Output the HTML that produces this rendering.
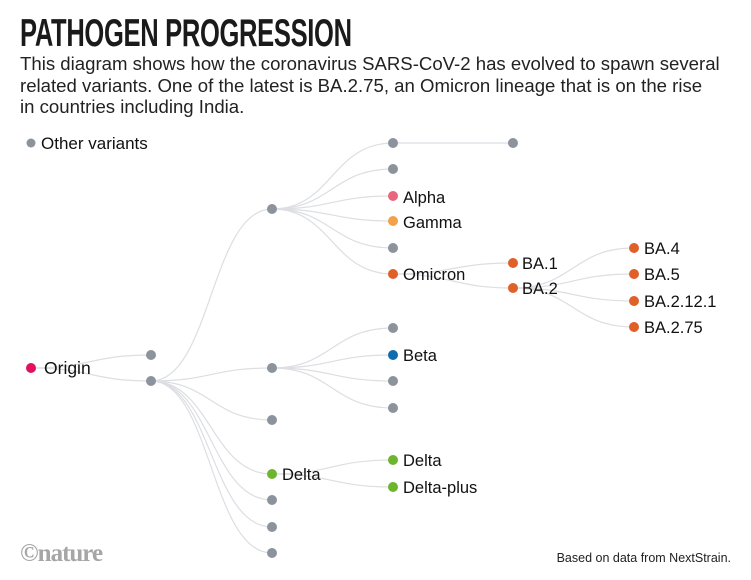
<!DOCTYPE html><html><head><style>
body{margin:0;background:#fff;width:751px;height:580px;overflow:hidden;position:relative;font-family:"Liberation Sans",sans-serif;color:#222}
h1{position:absolute;left:20px;top:12px;margin:0;font-family:"Liberation Sans Narrow","Liberation Sans",sans-serif;font-weight:bold;font-size:39px;letter-spacing:-0.5px;transform:scaleX(0.655);transform-origin:left;color:#1a1a1a;white-space:nowrap}
p{position:absolute;left:20px;top:53px;margin:0;font-size:18.6px;line-height:21.5px;width:760px;transform:scaleX(1.0);transform-origin:left;color:#222;white-space:nowrap}
</style></head><body>
<h1>PATHOGEN PROGRESSION</h1>
<p>This diagram shows how the coronavirus SARS-CoV-2 has evolved to spawn several<br>related variants. One of the latest is BA.2.75, an Omicron lineage that is on the rise<br>in countries including India.</p>
<svg width="751" height="580" style="position:absolute;left:0;top:0" font-family="Liberation Sans, sans-serif" font-size="16.5" fill="#111">
<g fill="none" stroke="#dcdee2" stroke-width="1.2">
<path d="M31,368 C91,368 91,355 151,355"/><path d="M31,368 C91,368 91,381 151,381"/>
<path d="M151,381 C211,381 211,209 272,209"/><path d="M151,381 C211,381 211,368 272,368"/><path d="M151,381 C211,381 211,420 272,420"/><path d="M151,381 C211,381 211,474 272,474"/><path d="M151,381 C211,381 211,500 272,500"/><path d="M151,381 C211,381 211,527 272,527"/><path d="M151,381 C211,381 211,553 272,553"/>
<path d="M272,209 C332,209 332,143 393,143"/><path d="M272,209 C332,209 332,169 393,169"/><path d="M272,209 C332,209 332,196 393,196"/><path d="M272,209 C332,209 332,221 393,221"/><path d="M272,209 C332,209 332,248 393,248"/><path d="M272,209 C332,209 332,274 393,274"/>
<path d="M272,368 C332,368 332,328 393,328"/><path d="M272,368 C332,368 332,355 393,355"/><path d="M272,368 C332,368 332,381 393,381"/><path d="M272,368 C332,368 332,408 393,408"/>
<path d="M272,474 C332,474 332,460 393,460"/><path d="M272,474 C332,474 332,487 393,487"/>
<path d="M393,143 L513,143"/><path d="M393,274 C453,274 453,263 513,263"/><path d="M393,274 C453,274 453,288 513,288"/>
<path d="M513,288 C573,288 573,248 634,248"/><path d="M513,288 C573,288 573,274 634,274"/><path d="M513,288 C573,288 573,301 634,301"/><path d="M513,288 C573,288 573,327 634,327"/>
</g>
<g fill="#8c939c">
<circle cx="31" cy="143" r="4.5"/><circle cx="151" cy="355" r="5"/><circle cx="151" cy="381" r="5"/>
<circle cx="272" cy="209" r="5"/><circle cx="272" cy="368" r="5"/><circle cx="272" cy="420" r="5"/><circle cx="272" cy="500" r="5"/><circle cx="272" cy="527" r="5"/><circle cx="272" cy="553" r="5"/>
<circle cx="393" cy="143" r="5"/><circle cx="393" cy="169" r="5"/><circle cx="393" cy="248" r="5"/><circle cx="393" cy="328" r="5"/><circle cx="393" cy="381" r="5"/><circle cx="393" cy="408" r="5"/><circle cx="513" cy="143" r="5"/>
</g>
<circle cx="31" cy="368" r="5" fill="#e0115f"/>
<circle cx="393" cy="196" r="5" fill="#e8677f"/><circle cx="393" cy="221" r="5" fill="#f2a24a"/>
<circle cx="393" cy="355" r="5" fill="#0e6bb0"/>
<g fill="#6cb52d"><circle cx="272" cy="474" r="5"/><circle cx="393" cy="460" r="5"/><circle cx="393" cy="487" r="5"/></g>
<g fill="#e0602a"><circle cx="393" cy="274" r="5"/><circle cx="513" cy="263" r="5"/><circle cx="513" cy="288" r="5"/><circle cx="634" cy="248" r="5"/><circle cx="634" cy="274" r="5"/><circle cx="634" cy="301" r="5"/><circle cx="634" cy="327" r="5"/></g>
<g>
<text x="41" y="149" font-size="17">Other variants</text>
<text x="44" y="374" font-size="17.5">Origin</text>
<text x="403" y="203">Alpha</text><text x="403" y="228">Gamma</text><text x="403" y="280">Omicron</text>
<text x="403" y="361">Beta</text><text x="282" y="480">Delta</text><text x="403" y="466">Delta</text><text x="403" y="493">Delta-plus</text>
<text x="522" y="269">BA.1</text><text x="522" y="294">BA.2</text>
<text x="644" y="254">BA.4</text><text x="644" y="280">BA.5</text><text x="644" y="307">BA.2.12.1</text><text x="644" y="333">BA.2.75</text>
</g>
<text x="20" y="561" font-family="Liberation Serif, serif" font-weight="bold" font-size="25" fill="#a6a6a6" letter-spacing="-1">©nature</text>
<text x="731" y="562" text-anchor="end" font-size="12.5" fill="#222">Based on data from NextStrain.</text>
</svg>
</body></html>
